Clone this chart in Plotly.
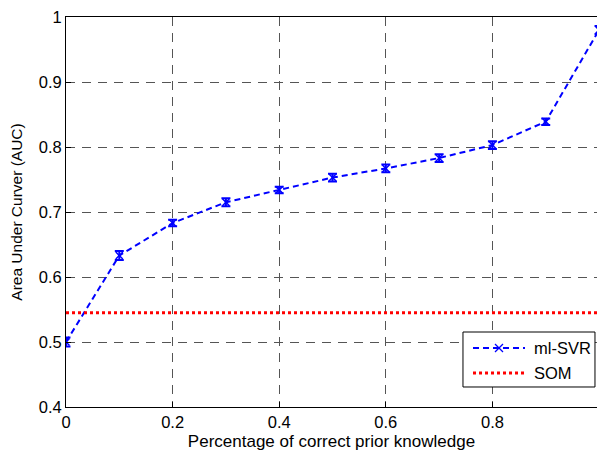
import plotly.graph_objects as go

# Fraction of correct prior knowledge supplied to the learner
prior_fraction = [0.0, 0.1, 0.2, 0.3, 0.4, 0.5, 0.6, 0.7, 0.8, 0.9, 1.0]
# Mean AUC of ml-SVR and its error bar half-width
mlsvr_auc = [0.500, 0.633, 0.683, 0.715, 0.734, 0.753, 0.767, 0.783, 0.803, 0.839, 0.980]
mlsvr_err = [0.007, 0.007, 0.005, 0.006, 0.005, 0.006, 0.006, 0.006, 0.006, 0.005, 0.006]
# SOM baseline AUC (constant)
som_auc = 0.545

series_names = ["ml-SVR", "SOM"]
x_ticks = [0, 0.2, 0.4, 0.6, 0.8]
y_ticks = [0.4, 0.5, 0.6, 0.7, 0.8, 0.9, 1.0]
y_ticktext = ["0.4", "0.5", "0.6", "0.7", "0.8", "0.9", "1"]

FONT = "Liberation Sans, Arial, sans-serif"
BLUE = "#0000ff"
RED = "#ff0000"
BLUE_DASH = "6px,4px"
RED_DOT = "3px,3px"

fig = go.Figure()

fig.add_trace(go.Scatter(
    x=prior_fraction, y=mlsvr_auc, name=series_names[0],
    mode="lines+markers",
    line=dict(color=BLUE, width=2, dash=BLUE_DASH),
    marker=dict(symbol="x-thin", size=7, line=dict(color=BLUE, width=1.5)),
    error_y=dict(type="data", array=mlsvr_err, visible=True,
                 color=BLUE, thickness=2, width=4.5),
))

fig.add_trace(go.Scatter(
    x=[0, 1.0], y=[som_auc, som_auc], name=series_names[1],
    mode="lines",
    line=dict(color=RED, width=3, dash=RED_DOT),
))

# Legend box drawn in paper coordinates (lower right of the axes)
lx0, lx1 = 0.7476, 0.9962
ly0, ly1 = 0.0513, 0.1923
row_y = [0.1513, 0.0872]
sx0, sx1 = 0.7665, 0.8644
text_x = 0.8776
shapes = [dict(type="rect", xref="paper", yref="paper", x0=lx0, x1=lx1, y0=ly0, y1=ly1,
               line=dict(color="black", width=1), fillcolor="white", layer="above")]
shapes.append(dict(type="line", xref="paper", yref="paper", x0=sx0, x1=sx1,
                   y0=row_y[0], y1=row_y[0], layer="above",
                   line=dict(color=BLUE, width=2, dash=BLUE_DASH)))
shapes.append(dict(type="line", xref="paper", yref="paper", x0=sx0, x1=sx1,
                   y0=row_y[1], y1=row_y[1], layer="above",
                   line=dict(color=RED, width=3, dash=RED_DOT)))
# small cross marker in the middle of the ml-SVR sample line
mx = (sx0 + sx1) / 2
dx, dy = 4 / 531, 4 / 390
for s in (1, -1):
    shapes.append(dict(type="line", xref="paper", yref="paper",
                       x0=mx - dx, x1=mx + dx, y0=row_y[0] - s * dy, y1=row_y[0] + s * dy,
                       layer="above", line=dict(color=BLUE, width=1.2)))

annotations = [
    dict(x=text_x, y=yy, xref="paper", yref="paper", text=name, showarrow=False,
         xanchor="left", yanchor="middle", font=dict(family=FONT, size=16.5, color="black"))
    for name, yy in zip(series_names, row_y)
]

grid_color = "#555555"
grid_dash = "9px,7px"
fig.update_layout(
    width=597, height=453,
    margin=dict(l=66, r=0, t=17, b=46),
    paper_bgcolor="white", plot_bgcolor="white",
    font=dict(family=FONT, size=15, color="black"),
    showlegend=False,
    shapes=shapes,
    annotations=annotations,
    xaxis=dict(
        range=[0, 0.9962], tickvals=x_ticks, ticktext=[str(v) for v in x_ticks],
        ticks="inside", ticklen=5, tickcolor="black",
        showline=True, linecolor="black", linewidth=1, mirror=True,
        showgrid=True, gridcolor=grid_color, griddash=grid_dash, gridwidth=1,
        zeroline=False,
        title=dict(text="Percentage of correct prior knowledge",
                   font=dict(family=FONT, size=17), standoff=5),
        tickfont=dict(family=FONT, size=16.5),
    ),
    yaxis=dict(
        range=[0.4, 1.0], tickvals=y_ticks, ticktext=y_ticktext,
        ticks="inside", ticklen=5, tickcolor="black",
        showline=True, linecolor="black", linewidth=1, mirror=False,
        showgrid=True, gridcolor=grid_color, griddash=grid_dash, gridwidth=1,
        zeroline=False,
        title=dict(text="Area Under Curver (AUC)",
                   font=dict(family=FONT, size=15.5), standoff=12),
        tickfont=dict(family=FONT, size=16.5),
    ),
)

fig.write_html("out.html")
